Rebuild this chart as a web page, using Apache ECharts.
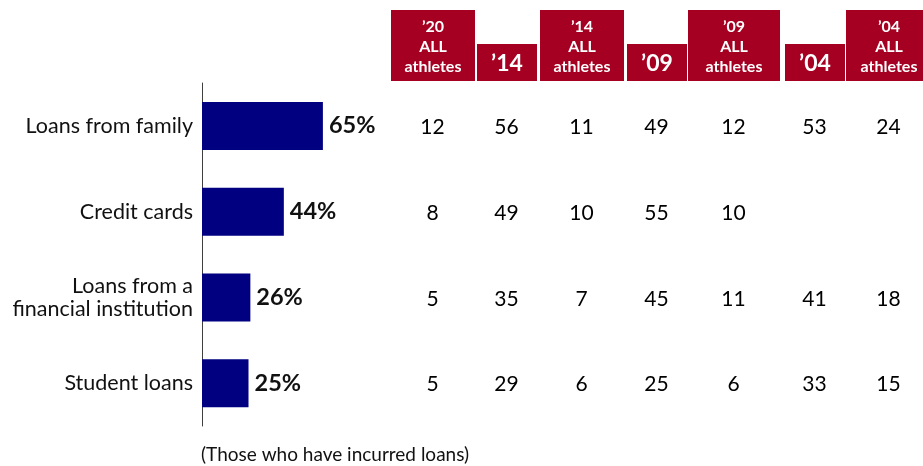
<!DOCTYPE html>
<html>
<head>
<meta charset="utf-8">
<script src="https://cdn.jsdelivr.net/npm/echarts@6/dist/echarts.min.js"></script>
<style>
  html, body { margin: 0; padding: 0; background: #fff; }
  #chart { width: 923px; height: 466px; }
</style>
</head>
<body>
<div id="chart"></div>
<script>
// Sources of loans, with comparison columns from earlier surveys
const categories = ['Loans from family', 'Credit cards', 'Loans from a\nfinancial institution', 'Student loans'];
const share2020 = [65, 44, 26, 25];

const columnHeaders = ['’20\nALL\nathletes', '’14', '’14\nALL\nathletes', '’09', '’09\nALL\nathletes', '’04', '’04\nALL\nathletes'];
const all2020 = [12, 8, 5, 5];
const y2014 = [56, 49, 35, 29];
const all2014 = [11, 10, 7, 6];
const y2009 = [49, 55, 45, 25];
const all2009 = [12, 10, 11, 6];
const y2004 = [53, null, 41, 33];
const all2004 = [24, null, 18, 15];
const columnValues = [all2020, y2014, all2014, y2009, all2009, y2004, all2004];
const footnote = '(Those who have incurred loans)';

// Layout: column centre x and header box width for each comparison column
const colCenter = [433, 507, 582, 657, 734, 815, 889];
const boxWidth = [84, 60, 84, 60, 92, 60, 86];
const tallHeader = [true, false, true, false, true, false, true];

const FONT = 'Lato';
const RED = '#A50021';
const GRID_TOP = 83, GRID_H = 343;

const grids = [{ left: 202, width: 186, top: GRID_TOP, height: GRID_H, outerBoundsMode: 'none' }];
const xAxes = [{
  gridIndex: 0, type: 'value', min: 0, max: 100, show: false
}];
const yAxes = [{
  gridIndex: 0, type: 'category', data: categories, inverse: true,
  axisLine: { show: true, lineStyle: { color: '#404040', width: 1 } },
  axisTick: { show: false },
  axisLabel: { margin: 9, color: '#111', fontFamily: FONT, fontSize: 21.5, lineHeight: 23, align: 'right' }
}];
const series = [{
  type: 'bar', xAxisIndex: 0, yAxisIndex: 0,
  data: share2020, barWidth: 48,
  itemStyle: { color: '#000080' },
  label: {
    show: true, position: 'right', distance: 6, formatter: '{c}%',
    color: '#111', fontFamily: FONT, fontWeight: 'bold', fontSize: 23.5
  },
  silent: true
}];

columnHeaders.forEach((h, k) => {
  const gi = k + 1;
  const tall = tallHeader[k];
  // narrow grid centred on the column; the header box width is set on the label
  grids.push({
    left: colCenter[k] - 30, width: 60, top: GRID_TOP, height: GRID_H,
    outerBoundsMode: 'none'
  });
  xAxes.push({
    gridIndex: gi, type: 'category', data: [h], position: 'top',
    axisLine: { show: false }, axisTick: { show: false }, splitLine: { show: false },
    axisLabel: {
      interval: 0, margin: 2, color: '#fff', fontFamily: FONT, fontWeight: 'bold',
      fontSize: tall ? 16 : 23, lineHeight: tall ? 20 : 27,
      backgroundColor: RED, width: boxWidth[k], align: 'center',
      padding: tall ? [7, 0, 4, 0] : [6, 0, 4, 0]
    }
  });
  yAxes.push({ gridIndex: gi, type: 'category', data: categories, inverse: true, show: false });
  const vals = columnValues[k];
  series.push({
    type: 'scatter', xAxisIndex: gi, yAxisIndex: gi,
    symbolSize: 1, itemStyle: { color: 'rgba(255,255,255,0)', opacity: 1 }, silent: true,
    data: vals.map((v, i) => v == null ? null : [0, i, v]).filter(d => d),
    label: {
      show: true, position: [0, 0], offset: [0, 2], opacity: 1,
      align: 'center', verticalAlign: 'middle', textBorderWidth: 0,
      formatter: p => String(p.value[2]),
      color: '#000', fontFamily: FONT, fontSize: 21
    }
  });
});

const chart = echarts.init(document.getElementById('chart'), null, { renderer: 'canvas' });
chart.setOption({
  animation: false,
  grid: grids, xAxis: xAxes, yAxis: yAxes, series: series,
  graphic: [{
    type: 'text', left: 201, top: 445,
    style: { text: footnote, fill: '#111', font: '19px ' + FONT }
  }]
});
</script>
</body>
</html>
